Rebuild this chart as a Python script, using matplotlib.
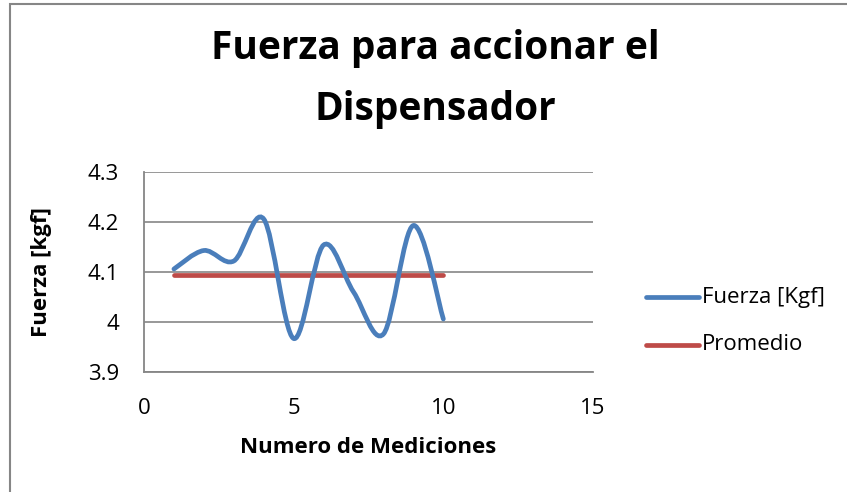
import matplotlib.pyplot as plt
import numpy as np
from matplotlib.path import Path
from matplotlib.patches import PathPatch, Rectangle

plt.rcParams['font.family'] = ['Open Sans', 'DejaVu Sans']

mediciones = [1, 2, 3, 4, 5, 6, 7, 8, 9, 10]
fuerza = [4.106, 4.143, 4.122, 4.206, 3.967, 4.154, 4.060, 3.976, 4.193, 4.006]
promedio = [np.mean(fuerza)] * len(mediciones)

azul = '#4a7ebb'
rojo = '#be4b48'
gris = '#868686'


def curva_suave(x, y):
    # bezier segments through the points, like the smoothed lines in a spreadsheet
    p = np.column_stack([x, y]).astype(float)
    n = len(p)
    verts = [p[0]]
    codes = [Path.MOVETO]
    for i in range(n - 1):
        p0 = p[i - 1] if i > 0 else p[i]
        p3 = p[i + 2] if i + 2 < n else p[i + 1]
        c1 = p[i] + (p[i + 1] - p0) / 6
        c2 = p[i + 1] - (p3 - p[i]) / 6
        verts += [c1, c2, p[i + 1]]
        codes += [Path.CURVE4] * 3
    return Path(verts, codes)


fig = plt.figure(figsize=(8.47, 4.92), dpi=100)
ax = fig.add_axes([144 / 847, 1 - 372 / 492, 449 / 847, 200 / 492])

ax.add_patch(PathPatch(curva_suave(mediciones, fuerza), fill=False,
                       edgecolor=azul, lw=3.4, capstyle='round', zorder=3))
ax.plot(mediciones, promedio, color=rojo, lw=3.4, solid_capstyle='round', zorder=2)

ax.set_xlim(0, 15)
ax.set_ylim(3.9, 4.3)
ax.set_xticks([0, 5, 10, 15])
ax.set_yticks([3.9, 4.0, 4.1, 4.2, 4.3])
ax.set_yticklabels(['3.9', '4', '4.1', '4.2', '4.3'])
ax.tick_params(length=0, labelsize=16, pad=18)
ax.tick_params(axis='x', pad=19)
ax.grid(axis='y', color=gris, lw=1.2)
ax.set_axisbelow(True)
for s in ['top', 'right']:
    ax.spines[s].set_visible(False)
for s in ['left', 'bottom']:
    ax.spines[s].set_color(gris)
    ax.spines[s].set_linewidth(1.3)

ax.set_xlabel('Numero de Mediciones', fontsize=16, fontweight='bold', labelpad=13)
ax.set_ylabel('Fuerza [kgf]', fontsize=16, fontweight='bold', labelpad=26)

fig.text(435 / 847, 1 - 79 / 492, 'Fuerza para accionar el\nDispensador',
         ha='center', va='center', fontsize=28, fontweight='bold',
         linespacing=1.75)

# legend drawn by hand, line then text
for yy, color, label in [(297, azul, 'Fuerza [Kgf]'), (345, rojo, 'Promedio')]:
    fy = 1 - yy / 492
    fig.add_artist(plt.Line2D([646 / 847, 699 / 847], [fy, fy], color=color,
                              lw=3.4, solid_capstyle='round'))
    fig.text(702 / 847, fy, label, ha='left', va='center', fontsize=16)

# chart area frame
fig.add_artist(Rectangle((10 / 847, -0.1), 1.2, 1 - 4 / 492 + 0.1,
                         transform=fig.transFigure, fill=False,
                         edgecolor=gris, lw=1.5))

fig.savefig('out.png', dpi=100)
